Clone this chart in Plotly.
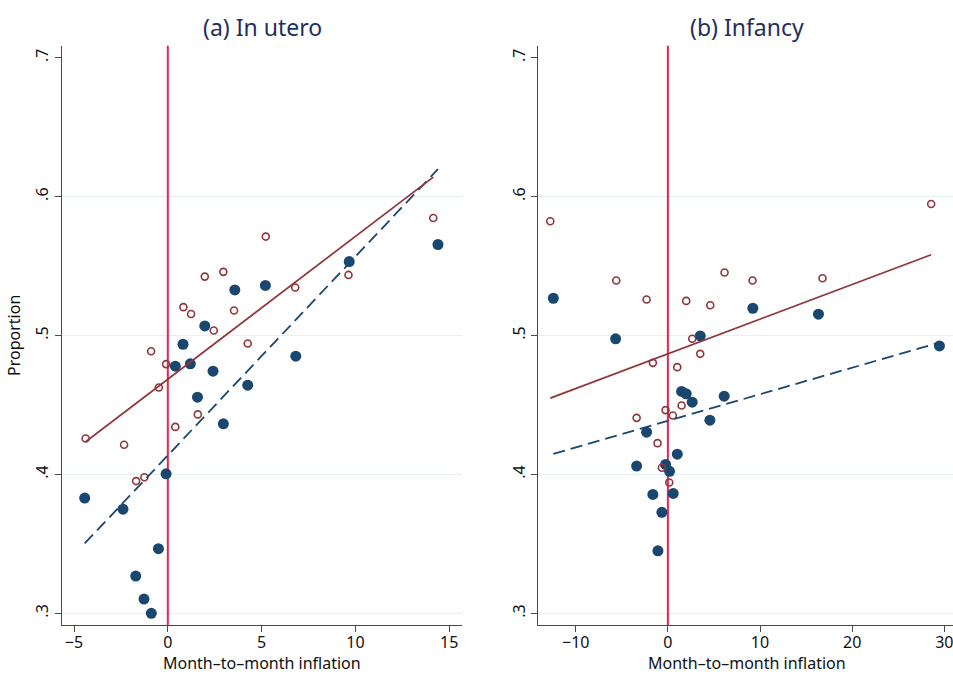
import numpy as np
import plotly.graph_objects as go

# ---------------- data ----------------
# Panel (a) In utero
a_blue_x = [14.40, 9.67, 5.20, 3.57, 1.97, 0.81, 0.40, 1.20, 2.41, 6.82,
            4.26, 1.58, 2.96, -0.09, -4.43, -2.39, -0.50, -1.71, -1.27, -0.88]
a_blue_y = [0.5655, 0.5532, 0.5360, 0.5328, 0.5069, 0.4937, 0.4779, 0.4796, 0.4743, 0.4851,
            0.4642, 0.4556, 0.4364, 0.4004, 0.3830, 0.3750, 0.3465, 0.3268, 0.3103, 0.3000]
a_red_x = [14.15, 5.22, 2.96, 1.97, 9.63, 6.79, 3.53, 0.83, 1.24, 2.45,
           4.26, -0.89, -0.09, -0.48, 1.60, 0.40, -4.38, -2.33, -1.69, -1.25]
a_red_y = [0.5846, 0.5712, 0.5458, 0.5424, 0.5436, 0.5345, 0.5180, 0.5204, 0.5155, 0.5036,
           0.4942, 0.4887, 0.4794, 0.4626, 0.4432, 0.4342, 0.4259, 0.4213, 0.3952, 0.3980]

# Panel (b) Infancy
b_blue_x = [-12.43, -5.67, 9.22, 16.34, 29.47, 3.51, 1.49, 1.99, 2.64, 6.11,
            4.56, -2.31, -3.39, -0.25, 0.18, 1.02, -1.63, 0.58, -0.65, -1.08]
b_blue_y = [0.5268, 0.4976, 0.5196, 0.5153, 0.4925, 0.4997, 0.4597, 0.4580, 0.4520, 0.4563,
            0.4390, 0.4304, 0.4060, 0.4072, 0.4022, 0.4146, 0.3856, 0.3863, 0.3727, 0.3450]
b_red_x = [-12.76, 28.57, -5.60, 6.15, 9.19, 16.78, -2.31, 1.99, 4.60, 2.64,
           3.51, -1.63, 1.02, 1.49, -0.25, 0.54, -3.39, -1.12, -0.65, 0.15]
b_red_y = [0.5822, 0.5947, 0.5396, 0.5453, 0.5396, 0.5412, 0.5259, 0.5249, 0.5218, 0.4976,
           0.4868, 0.4803, 0.4772, 0.4496, 0.4463, 0.4424, 0.4407, 0.4225, 0.4048, 0.3942]

titles = ["(a) In utero", "(b) Infancy"]
x_title = "Month–to–month inflation"
y_title = "Proportion"
y_ticks = [0.3, 0.4, 0.5, 0.6, 0.7]
y_tick_text = [".3", ".4", ".5", ".6", ".7"]
grid_vals = [0.3, 0.4, 0.5, 0.6]
a_x_ticks = [-5, 0, 5, 10, 15]
b_x_ticks = [-10, 0, 10, 20, 30]

# ---------------- styling ----------------
BLUE = "#1a476f"
RED = "#90353b"
VLINE = "#e3264f"
GRID = "#e6eff1"
AXIS = "#4a4a4a"
TITLE = "#1f2f5c"
FONT = "Noto Sans"
W, H = 953, 675

fig = go.Figure()


def fit_line(x, y):
    x = np.asarray(x, float)
    y = np.asarray(y, float)
    b, a = np.polyfit(x, y, 1)
    xs = np.array([x.min(), x.max()])
    return xs, a + b * xs


panels = [
    ("x", "y", a_blue_x, a_blue_y, a_red_x, a_red_y),
    ("x2", "y2", b_blue_x, b_blue_y, b_red_x, b_red_y),
]

for xa, ya, bx, by, rx, ry in panels:
    fig.add_trace(go.Scatter(x=bx, y=by, mode="markers", xaxis=xa, yaxis=ya,
                             marker=dict(symbol="circle", size=11, color=BLUE,
                                         line=dict(width=0)),
                             showlegend=False, hoverinfo="skip"))
    fig.add_trace(go.Scatter(x=rx, y=ry, mode="markers", xaxis=xa, yaxis=ya,
                             marker=dict(symbol="circle-open", size=7, color=RED,
                                         line=dict(width=1.6, color=RED)),
                             showlegend=False, hoverinfo="skip"))
    fx, fy = fit_line(bx, by)
    fig.add_trace(go.Scatter(x=fx, y=fy, mode="lines", xaxis=xa, yaxis=ya,
                             line=dict(color=BLUE, width=1.8, dash="12px,6px"),
                             showlegend=False, hoverinfo="skip"))
    fx, fy = fit_line(rx, ry)
    fig.add_trace(go.Scatter(x=fx, y=fy, mode="lines", xaxis=xa, yaxis=ya,
                             line=dict(color=RED, width=1.7),
                             showlegend=False, hoverinfo="skip"))

shapes = []
for xa, ya in [("x", "y"), ("x2", "y2")]:
    for g in grid_vals:
        shapes.append(dict(type="line", xref=f"{xa} domain", yref=ya,
                           x0=0, x1=1, y0=g, y1=g, layer="below",
                           line=dict(color=GRID, width=1)))
    shapes.append(dict(type="line", xref=xa, yref=f"{ya} domain",
                       x0=0, x1=0, y0=0, y1=1, layer="below",
                       line=dict(color=VLINE, width=2)))

ydom = [1 - 625 / H, 1 - 45.7 / H]
tickfont = dict(family=FONT, size=16, color="#111111")
titlefont = dict(family=FONT, size=16, color="#111111")
axis_common = dict(showline=True, linecolor=AXIS, linewidth=1.3, ticks="outside",
                   ticklen=6, tickwidth=1.2, tickcolor=AXIS, showgrid=False,
                   zeroline=False, tickfont=tickfont, ticklabeloverflow="allow",
                   automargin=False)

title_font = dict(family=FONT, size=23, color=TITLE)
annotations = [
    dict(text=titles[0], x=262 / W, y=1 - 27 / H, font=title_font, yanchor="middle"),
    dict(text=titles[1], x=747 / W, y=1 - 27 / H, font=title_font, yanchor="middle"),
    dict(text=x_title, x=262 / W, y=0, font=titlefont, yanchor="bottom"),
    dict(text=x_title, x=747 / W, y=0, font=titlefont, yanchor="bottom"),
]
for a in annotations:
    a.update(xref="paper", yref="paper", xanchor="center", showarrow=False,
             borderpad=0)

fig.update_layout(
    width=W, height=H, margin=dict(l=0, r=0, t=0, b=0),
    paper_bgcolor="white", plot_bgcolor="white",
    font=dict(family=FONT, color="#111111"),
    shapes=shapes,
    xaxis=dict(domain=[62 / W, 462 / W], range=[-5.64, 15.68], anchor="y",
               tickvals=a_x_ticks, ticklabelstandoff=-3,
               **axis_common),
    yaxis=dict(domain=ydom, range=[0.2916, 0.7086], anchor="x",
               tickvals=y_ticks, ticktext=y_tick_text, tickangle=-90,
               title=dict(text=y_title, standoff=6, font=titlefont),
               **axis_common),
    xaxis2=dict(domain=[538.3 / W, 1.0], range=[-14.06, 30.94], anchor="y2",
                tickvals=b_x_ticks, ticklabelstandoff=-3,
                **axis_common),
    yaxis2=dict(domain=ydom, range=[0.2916, 0.7086], anchor="x2",
                tickvals=y_ticks, ticktext=y_tick_text, tickangle=-90,
                **axis_common),
    annotations=annotations,
)

fig.write_html("out.html")
